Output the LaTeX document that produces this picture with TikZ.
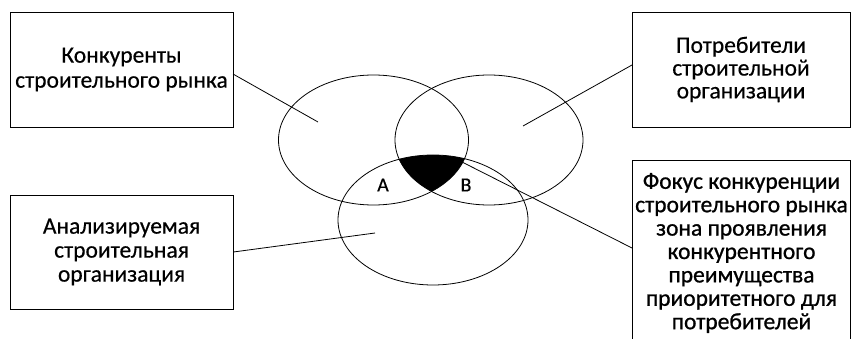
\documentclass[tikz,border=0pt]{standalone}
\usepackage{fontspec}
\setmainfont[FakeBold=0.4]{Carlito}
\newfontfamily\boldishfont[FakeBold=0.9]{Carlito}
\begin{document}
\begin{tikzpicture}[x=1pt,y=-1pt,
  box/.style={draw, line width=0.8pt, inner sep=0pt, align=center},
  ell/.style={draw, line width=0.8pt},
  conn/.style={draw, line width=0.8pt}]
\useasboundingbox (0,0) rectangle (851,339);
% ellipses
\path[ell] (373.5,140) ellipse [x radius=95, y radius=65];
\path[ell] (489,140) ellipse [x radius=94, y radius=65];
\path[ell] (433,220) ellipse [x radius=95, y radius=65];
\begin{scope}
  \clip (373.5,140) ellipse [x radius=95, y radius=65];
  \clip (489,140) ellipse [x radius=94, y radius=65];
  \fill (433,220) ellipse [x radius=95, y radius=65];
\end{scope}
% boxes
\node[box, minimum width=223, minimum height=115, font=\fontsize{23.5}{25}\selectfont] (kb) at (121.5,69.5) {Конкуренты\\строительного рынка};
\node[box, minimum width=223, minimum height=114, font=\fontsize{23.5}{24}\selectfont] (ab) at (121.5,252) {Анализируемая\\строительная\\организация};
\node[box, minimum width=218, minimum height=115, font=\fontsize{23.5}{22.8}\selectfont] (pb) at (741,69.5) {Потребители\\строительной\\организации};
\draw[line width=0.8pt] (632,339) -- (632,160) -- (850.5,160) -- (850.5,339);
\node[align=center, font=\boldishfont\fontsize{23.5}{23.4}\selectfont] (fb) at (741.5,253) {Фокус конкуренции\\строительного рынка\\зона проявления\\конкурентного\\преимущества\\приоритетного для\\потребителей};
% labels
\node[font=\fontsize{20}{24}\selectfont] (la) at (383,185) {A};
\node[font=\fontsize{20}{24}\selectfont] (lb) at (466,185) {B};
% connectors
\coordinate (c1) at (318,122);
\coordinate (c2) at (375,233);
\coordinate (c3) at (523,126);
\coordinate (c4) at (462,162);
\coordinate (fw) at (632,248);
\coordinate (kbe) at (233,74);
\coordinate (pbw) at (632,65);
\draw[conn] (kbe) -- (c1);
\draw[conn] (ab.east) -- (c2);
\draw[conn] (pbw) -- (c3);
\draw[conn] (fw) -- (c4);
\end{tikzpicture}
\end{document}
